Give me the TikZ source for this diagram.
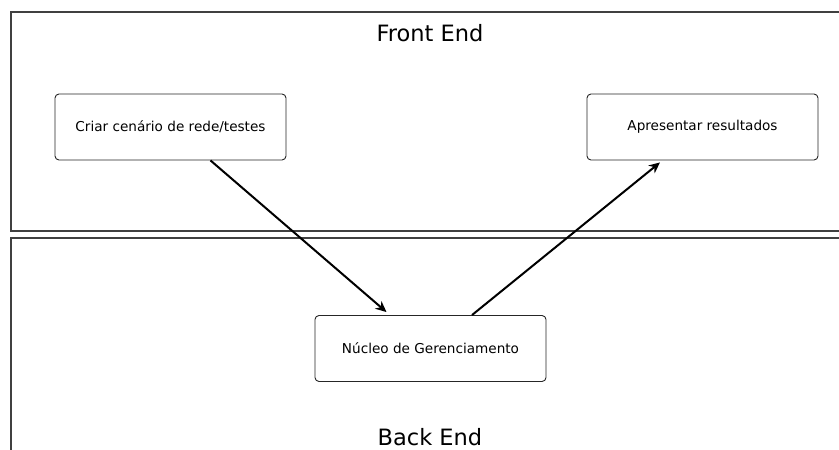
\documentclass[tikz,border=0pt]{standalone}
\usepackage{fontspec}
\setmainfont{DejaVu Sans}
\usetikzlibrary{arrows.meta}
\tikzset{
  layer/.style={draw=black!75, line width=2pt},
  procbox/.style={draw=black!85, line width=0.9pt, rounded corners=4pt, fill=white,
    minimum width=231pt, minimum height=66pt, inner sep=0pt, font=\fontsize{13.6}{16}\selectfont},
  flow/.style={draw=black, line width=2pt, -{Stealth[length=11pt,width=10pt]}},
  layertitle/.style={font=\fontsize{22.5}{26}\selectfont}
}
\begin{document}
\begin{tikzpicture}[x=1pt,y=-1pt]
  \useasboundingbox (0,0) rectangle (839,450);
  \begin{scope}
    \clip (0,0) rectangle (839,450);
    % application layers
    \draw[layer] (11,12) rectangle (850,230.5);
    \draw[layer] (11,238) rectangle (850,470);
  \end{scope}
  \node[layertitle] (fe) at (430,33) {Front End};
  \node[layertitle] (be) at (430,437) {Back End};
  % processes
  \node[procbox] (criar) at (170.5,127) {Criar cenário de rede/testes};
  \node[procbox] (apres) at (702.5,127) {Apresentar resultados};
  \node[procbox] (nucleo) at (430.5,348.5) {Núcleo de Gerenciamento};
  % flows
  \draw[flow] ([xshift=40pt]criar.south) -- ([xshift=-44pt,yshift=3pt]nucleo.north);
  \draw[flow] ([xshift=41.5pt]nucleo.north) -- ([xshift=-42.5pt,yshift=-2pt]apres.south);
\end{tikzpicture}
\end{document}
